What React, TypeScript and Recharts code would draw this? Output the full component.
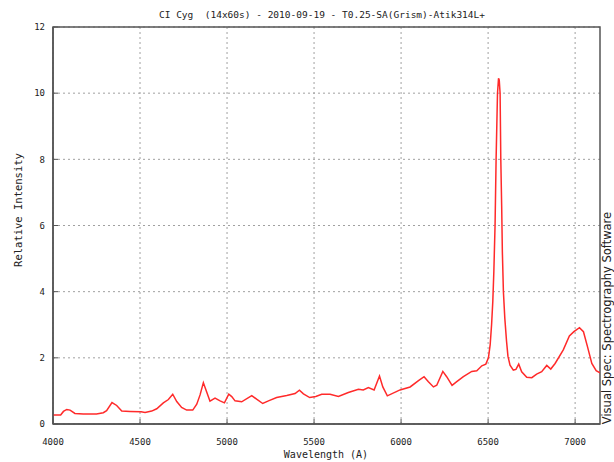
import React from "react";
import { LineChart, Line, XAxis, YAxis, CartesianGrid, ReferenceArea } from "recharts";

const wavelengths = [
  4000, 4044, 4060, 4079, 4098, 4126, 4174, 4250, 4289, 4308, 4339, 4366, 4395, 4443, 4506, 4529, 4567, 4596,
  4634, 4663, 4688, 4711, 4739, 4768, 4803, 4826, 4845, 4864, 4879, 4902, 4931, 4960, 4985, 5010, 5027, 5046,
  5084, 5142, 5170, 5205, 5238, 5285, 5343, 5391, 5416, 5439, 5475, 5510, 5544, 5592, 5640, 5697, 5755, 5783,
  5812, 5845, 5876, 5895, 5921, 5994, 6052, 6100, 6132, 6157, 6186, 6205, 6240, 6262, 6293, 6320, 6358, 6406,
  6435, 6464, 6487, 6502, 6512, 6520, 6527, 6533, 6540, 6546, 6554, 6560, 6564, 6569, 6573, 6578, 6582, 6588,
  6596, 6606, 6614, 6626, 6645, 6660, 6676, 6693, 6722, 6751, 6779, 6808, 6837, 6860, 6885, 6932, 6967, 6993,
  7025, 7048, 7071, 7096, 7121, 7143,
];

const intensity = [
  0.27, 0.27, 0.38, 0.44, 0.42, 0.32, 0.3, 0.3, 0.34, 0.4, 0.65, 0.56, 0.39, 0.38, 0.37, 0.35, 0.39, 0.46,
  0.64, 0.74, 0.9, 0.68, 0.5, 0.42, 0.42, 0.6, 0.88, 1.25, 1.03, 0.69, 0.78, 0.7, 0.64, 0.9, 0.83, 0.7,
  0.67, 0.86, 0.75, 0.62, 0.7, 0.8, 0.86, 0.92, 1.02, 0.91, 0.8, 0.83, 0.9, 0.9, 0.83, 0.95, 1.05, 1.03,
  1.1, 1.03, 1.45, 1.12, 0.85, 1.03, 1.12, 1.31, 1.43, 1.28, 1.12, 1.17, 1.59, 1.43, 1.17, 1.28, 1.43, 1.59,
  1.61, 1.76, 1.81, 2.0, 2.4, 3.0, 3.7, 4.6, 6.0, 8.0, 10.0, 10.45, 10.4, 10.0, 8.0, 6.6, 5.2, 4.0,
  3.2, 2.5, 2.05, 1.78, 1.63, 1.65, 1.81, 1.58, 1.41, 1.4, 1.51, 1.58, 1.77, 1.66, 1.83, 2.24, 2.66, 2.79,
  2.91, 2.79, 2.34, 1.83, 1.61, 1.55,
];

const xTicks = [4000, 4500, 5000, 5500, 6000, 6500, 7000];
const yTicks = [0, 2, 4, 6, 8, 10, 12];

const titleText = "CI Cyg  (14x60s) - 2010-09-19 - T0.25-SA(Grism)-Atik314L+";
const xLabelText = "Wavelength (A)";
const yLabelText = "Relative Intensity";
const creditText = "Visual Spec: Spectrography Software";

const data = wavelengths.map((w, i) => ({ w, v: intensity[i] }));

const mono = "'DejaVu Sans Mono', monospace";
const sans = "'DejaVu Sans', sans-serif";

const NoLabel = () => <g />;

export default function App() {
  return (
    <div style={{ position: "relative", width: 614, height: 462, background: "#fff" }}>
      <style>{`body{margin:0;background:#fff}`}</style>
      <LineChart width={614} height={462} data={data} margin={{ top: 27, right: 14, bottom: 8, left: 13 }}>
        <CartesianGrid
          stroke="#a0a0a0"
          strokeDasharray="2 3"
          verticalValues={xTicks}
          horizontalValues={yTicks}
        />
        <XAxis
          dataKey="w"
          type="number"
          domain={[4000, 7143]}
          ticks={xTicks}
          height={30}
          axisLine={{ stroke: "#555", strokeWidth: 1.5 }}
          tickLine={{ stroke: "#555" }}
          tickSize={-5}
          tickMargin={20}
          tick={{ fill: "#222", fontSize: 9, fontFamily: mono }}
          allowDataOverflow
        />
        <XAxis
          xAxisId="top"
          orientation="top"
          dataKey="w"
          type="number"
          domain={[4000, 7143]}
          ticks={xTicks}
          height={0}
          axisLine={false}
          tickLine={{ stroke: "#555" }}
          tickSize={-5}
          tick={NoLabel}
          allowDataOverflow
        />
        <YAxis
          type="number"
          domain={[0, 12]}
          ticks={yTicks}
          width={40}
          axisLine={{ stroke: "#555", strokeWidth: 1.5 }}
          tickLine={{ stroke: "#555" }}
          tickSize={-5}
          tickMargin={13}
          tick={{ fill: "#222", fontSize: 9, fontFamily: mono }}
          allowDataOverflow
        />
        <YAxis
          yAxisId="right"
          orientation="right"
          type="number"
          domain={[0, 12]}
          ticks={yTicks}
          width={0}
          axisLine={false}
          tickLine={{ stroke: "#555" }}
          tickSize={-5}
          tick={NoLabel}
          allowDataOverflow
        />
        <ReferenceArea
          x1={4000}
          x2={7143}
          y1={0}
          y2={12}
          fill="none"
          fillOpacity={0}
          stroke="#555"
          strokeWidth={1.5}
          ifOverflow="visible"
        />
        <Line
          type="linear"
          dataKey="v"
          stroke="#ff2a2a"
          strokeWidth={1.5}
          dot={false}
          isAnimationActive={false}
        />
      </LineChart>
      <svg
        width={614}
        height={462}
        style={{ position: "absolute", left: 0, top: 0, pointerEvents: "none" }}
      >
        <text
          x={322}
          y={14}
          textAnchor="middle"
          dominantBaseline="central"
          fontSize={9.5}
          fontFamily={mono}
          fill="#222"
          style={{ whiteSpace: "pre" }}
          xmlSpace="preserve"
        >
          {titleText}
        </text>
        <text x={326} y={454} textAnchor="middle" dominantBaseline="central" fontSize={10} fontFamily={mono} fill="#222">
          {xLabelText}
        </text>
        <text
          x={18}
          y={210}
          textAnchor="middle"
          dominantBaseline="central"
          fontSize={10.5}
          fontFamily={mono}
          fill="#222"
          transform="rotate(-90 18 210)"
        >
          {yLabelText}
        </text>
        <text
          x={607}
          y={318}
          textAnchor="middle"
          dominantBaseline="central"
          fontSize={11.5}
          fontFamily={sans}
          fill="#222"
          transform="rotate(-90 607 318)"
        >
          {creditText}
        </text>
      </svg>
    </div>
  );
}
